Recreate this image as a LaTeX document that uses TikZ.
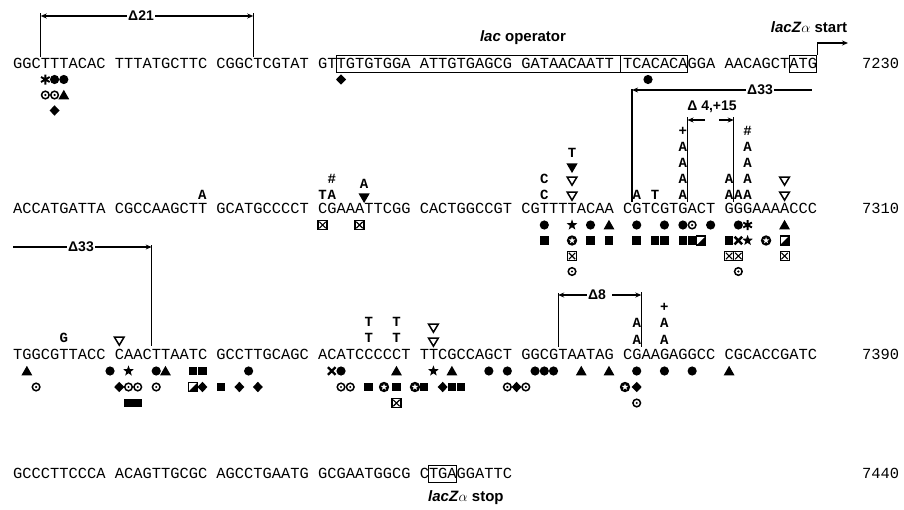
\documentclass[tikz,border=0pt]{standalone}
\usepackage{fontspec}
\setmainfont{Liberation Serif}
\setsansfont{Liberation Sans}
\setmonofont{Liberation Mono}
\usetikzlibrary{arrows.meta}

% column centre and column edge of the sequence lines
\newcommand\cx[1]{13+(#1+0.5)*9.24}
\newcommand\ex[1]{13+(#1)*9.24}

\tikzset{
  mkdot/.pic={\fill (0,0) circle (4.6);},
  mksq/.pic={\fill (-4.3,-4.3) rectangle (4.3,4.3);},
  mktri/.pic={\fill (0,-5.2) -- (5.4,4.3) -- (-5.4,4.3) -- cycle;},
  mkdtri/.pic={\fill (0,5) -- (5.6,-4.6) -- (-5.6,-4.6) -- cycle;},
  mkotri/.pic={\draw[line width=1.5pt] (0,4.2) -- (4.9,-4) -- (-4.9,-4) -- cycle;},
  mkdiam/.pic={\fill (0,-5.2) -- (5,0) -- (0,5.2) -- (-5,0) -- cycle;},
  mkodot/.pic={\draw[line width=1.5pt] (0,0) circle (3.8); \fill (0,0) circle (1.2);},
  mkxsq/.pic={\draw[line width=1.1pt] (-4.5,-4.5) rectangle (4.5,4.5);
    \draw[line width=1.1pt] (-3.2,-3.2) -- (3.2,3.2) (-3.2,3.2) -- (3.2,-3.2);},
  mkhsq/.pic={\draw[line width=1.1pt] (-4.5,-4.5) rectangle (4.5,4.5);
    \fill (4.5,-4.5) -- (4.5,4.5) -- (-4.5,4.5) -- cycle;},
  mkstar/.pic={\fill (-90:5.6) -- (-54:2.3) -- (-18:5.6) -- (18:2.3) -- (54:5.6) -- (90:2.3)
    -- (126:5.6) -- (162:2.3) -- (198:5.6) -- (234:2.3) -- cycle;},
  mkcstar/.pic={\fill (0,0) circle (5.2);
    \fill[white] (-90:3.4) -- (-54:1.4) -- (-18:3.4) -- (18:1.4) -- (54:3.4) -- (90:1.4)
    -- (126:3.4) -- (162:1.4) -- (198:3.4) -- (234:1.4) -- cycle;},
  mkast/.pic={\draw[line width=1.9pt] (-90:5) -- (90:5) (-30:5) -- (150:5) (30:5) -- (210:5);},
  mkcross/.pic={\draw[line width=2.4pt] (-3.8,-3.8) -- (3.8,3.8) (-3.8,3.8) -- (3.8,-3.8);}
}

\begin{document}
\begin{tikzpicture}[x=1pt,y=-1pt,
    seq/.style={font=\fontsize{15.4}{16}\selectfont\ttfamily,inner sep=0pt,anchor=base west},
    ins/.style={font=\fontsize{14}{14}\selectfont\ttfamily\bfseries,inner sep=0pt},
    lab/.style={font=\fontsize{14}{15}\selectfont\sffamily\bfseries,inner sep=1pt},
    seqbox/.style={draw,line width=0.9pt,inner sep=0pt,minimum height=17.5pt},
    dline/.style={line width=1.3pt},
    darr/.style={line width=1.3pt,-{Stealth[length=6pt,width=5pt]}}]
\useasboundingbox (0,0) rectangle (904,509);

% sequence lines
\node[seq] (row1) at (13,68.5) {GGCTTTACAC TTTATGCTTC CGGCTCGTAT GTTGTGTGGA ATTGTGAGCG GATAACAATT TCACACAGGA AACAGCTATG};
\node[seq] (row2) at (13,213.5) {ACCATGATTA CGCCAAGCTT GCATGCCCCT CGAAATTCGG CACTGGCCGT CGTTTTACAA CGTCGTGACT GGGAAAACCC};
\node[seq] (row3) at (13,359.5) {TGGCGTTACC CAACTTAATC GCCTTGCAGC ACATCCCCCT TTCGCCAGCT GGCGTAATAG CGAAGAGGCC CGCACCGATC};
\node[seq] (row4) at (13,478.5) {GCCCTTCCCA ACAGTTGCGC AGCCTGAATG GCGAATGGCG CTGAGGATTC};
\node[seq] (n7230) at (862,68.5) {7230};
\node[seq] (n7310) at (862,213.5) {7310};
\node[seq] (n7390) at (862,359.5) {7390};
\node[seq] (n7440) at (862,478.5) {7440};

% boxes and labels
\node[seqbox,minimum width=351.1pt] (opbox) at ({(\ex{35}+\ex{73})/2},64) {};
\coordinate (opdiv) at (620,64);
\draw[line width=0.9pt] (opdiv |- opbox.north) -- (opdiv |- opbox.south);
\node[lab,font=\fontsize{15}{16}\selectfont\sffamily\bfseries] (oplab) at (523,38) {\textit{lac} operator};
\node[seqbox,minimum width=27.7pt] (atgbox) at ({(\ex{84}+\ex{87})/2},64) {};
\node[lab,font=\fontsize{15}{16}\selectfont\sffamily\bfseries] (zstart) at (809,27) {\textit{lacZ}$\alpha$ start};
\coordinate (zstarttip) at (848,43);
\draw[darr] (atgbox.north east) |- (zstarttip);
\node[seqbox,minimum width=27.7pt] (stopbox) at ({(\ex{45}+\ex{48})/2},474) {};
\node[lab,font=\fontsize{15}{16}\selectfont\sffamily\bfseries,anchor=west] (zstop) at (427,498) {\textit{lacZ}$\alpha$ stop};

% deletions
\node[lab] (d21) at (141,16) {Δ21};
\coordinate (d21l) at ({\ex{3}},57);
\coordinate (d21lt) at ({\ex{3}},13);
\coordinate (d21r) at ({\ex{26}},57);
\coordinate (d21rt) at ({\ex{26}},13);
\draw[dline] (d21l) -- (d21lt);
\draw[dline] (d21r) -- (d21rt);
\draw[darr] (d21.west) -- (d21l |- d21);
\draw[darr] (d21.east) -- (d21r |- d21);

\node[lab] (d33a) at (760,90) {Δ33};
\coordinate (d33at) at ({\ex{67}},89);
\coordinate (d33ab) at ({\ex{67}},202);
\coordinate (d33aend) at (812,90);
\draw[dline] (d33at) -- (d33ab);
\draw[darr] (d33a.west) -- (d33at |- d33a);
\draw[dline] (d33a.east) -- (d33aend);

\node[lab] (d33b) at (81,247) {Δ33};
\coordinate (d33bstart) at (13,247);
\coordinate (d33bt) at ({\ex{15}},245);
\coordinate (d33bb) at ({\ex{15}},346);
\draw[dline] (d33bt) -- (d33bb);
\draw[dline] (d33bstart) -- (d33b.west);
\draw[darr] (d33b.east) -- (d33bt |- d33b);

\node[lab] (d4) at (712,107) {Δ 4,+15};
\coordinate (d4l) at ({\ex{73}},117);
\coordinate (d4lb) at ({\ex{73}},202);
\coordinate (d4r) at ({\ex{78}},117);
\coordinate (d4rb) at ({\ex{78}},202);
\coordinate (d4la) at (705,120);
\coordinate (d4ra) at (719,120);
\draw[dline] (d4l) -- (d4lb);
\draw[dline] (d4r) -- (d4rb);
\draw[darr] (d4la) -- (d4l |- d4la);
\draw[darr] (d4ra) -- (d4r |- d4ra);

\node[lab] (d8) at (597,295) {Δ8};
\coordinate (d8l) at ({\ex{59}},293);
\coordinate (d8lb) at ({\ex{59}},347);
\coordinate (d8r) at ({\ex{68}},292);
\coordinate (d8rb) at ({\ex{68}},347);
\draw[dline] (d8l) -- (d8lb);
\draw[dline] (d8r) -- (d8rb);
\draw[darr] (d8.west) -- (d8l |- d8);
\draw[darr] ([xshift=5pt]d8.east) -- (d8r |- d8);

% row 1 marks
\pic at ({\cx{3}},79.5) {mkast};
\pic at ({\cx{4}},79.5) {mkdot};
\pic at ({\cx{5}},79.5) {mkdot};
\pic at ({\cx{3}},95) {mkodot};
\pic at ({\cx{4}},95) {mkodot};
\pic at ({\cx{5}},95) {mktri};
\pic at ({\cx{4}},110.5) {mkdiam};
\pic at ({\cx{35}},79.5) {mkdiam};
\pic at (648,79.5) {mkdot};

% row 2 insertions and substitutions
\node[ins] (r2a20) at ({\cx{20}},195) {A};
\node[ins] (r2t33) at ({\cx{33}},195) {T};
\node[ins] (r2a34) at ({\cx{34}},195) {A};
\node[ins] (r2h34) at ({\cx{34}},179) {\#};
\pic at ({\ex{38}},198) {mkdtri};
\node[ins] (r2a38) at ({\ex{38}},184) {A};
\node[ins] (r2c57a) at ({\cx{57}},195) {C};
\node[ins] (r2c57b) at ({\cx{57}},179) {C};
\pic at ({\cx{60}},196) {mkotri};
\pic at ({\cx{60}},181) {mkotri};
\pic at ({\cx{60}},168) {mkdtri};
\node[ins] (r2t60) at ({\cx{60}},153) {T};
\node[ins] (r2a67) at ({\cx{67}},195) {A};
\node[ins] (r2t69) at ({\cx{69}},195) {T};
\node[ins] (r2a72a) at ({\cx{72}},195) {A};
\node[ins] (r2a72b) at ({\cx{72}},179) {A};
\node[ins] (r2a72c) at ({\cx{72}},163) {A};
\node[ins] (r2a72d) at ({\cx{72}},147) {A};
\node[ins] (r2p72) at ({\cx{72}},131) {+};
\node[ins] (r2a77a) at ({\cx{77}},195) {A};
\node[ins] (r2a77b) at ({\cx{77}},179) {A};
\node[ins] (r2a78) at ({\cx{78}},195) {A};
\node[ins] (r2a79a) at ({\cx{79}},195) {A};
\node[ins] (r2a79b) at ({\cx{79}},179) {A};
\node[ins] (r2a79c) at ({\cx{79}},163) {A};
\node[ins] (r2a79d) at ({\cx{79}},147) {A};
\node[ins] (r2h79) at ({\cx{79}},131) {\#};
\pic at ({\cx{83}},196) {mkotri};
\pic at ({\cx{83}},181) {mkotri};

% row 2 marks
\pic at ({\cx{33}},225) {mkxsq};
\pic at ({\cx{37}},225) {mkxsq};
\pic at ({\cx{57}},225) {mkdot};
\pic at ({\cx{60}},225) {mkstar};
\pic at ({\cx{62}},225) {mkdot};
\pic at ({\cx{64}},225) {mktri};
\pic at ({\cx{67}},225) {mkdot};
\pic at ({\cx{70}},225) {mkdot};
\pic at ({\cx{72}},225) {mkdot};
\pic at ({\cx{73}},225) {mkodot};
\pic at ({\cx{75}},225) {mkdot};
\pic at ({\cx{78}},225) {mkdot};
\pic at ({\cx{79}},225) {mkast};
\pic at ({\cx{83}},225) {mktri};
\pic at ({\cx{57}},240.5) {mksq};
\pic at ({\cx{60}},240.5) {mkcstar};
\pic at ({\cx{62}},240.5) {mksq};
\pic at ({\cx{64}},240.5) {mksq};
\pic at ({\cx{67}},240.5) {mksq};
\pic at ({\cx{69}},240.5) {mksq};
\pic at ({\cx{70}},240.5) {mksq};
\pic at ({\cx{72}},240.5) {mksq};
\pic at ({\cx{73}},240.5) {mksq};
\pic at ({\cx{74}},240.5) {mkhsq};
\pic at ({\cx{77}},240.5) {mksq};
\pic at ({\cx{78}},240.5) {mkcross};
\pic at ({\cx{79}},240.5) {mkstar};
\pic at ({\cx{81}},240.5) {mkcstar};
\pic at ({\cx{83}},240.5) {mkhsq};
\pic at ({\cx{60}},256) {mkxsq};
\pic at ({\cx{77}},256) {mkxsq};
\pic at ({\cx{78}},256) {mkxsq};
\pic at ({\cx{83}},256) {mkxsq};
\pic at ({\cx{60}},271.5) {mkodot};
\pic at ({\cx{78}},271.5) {mkodot};

% row 3 insertions and substitutions
\node[ins] (r3g5) at ({\cx{5}},338) {G};
\pic at ({\cx{11}},341) {mkotri};
\node[ins] (r3t38a) at ({\cx{38}},338) {T};
\node[ins] (r3t38b) at ({\cx{38}},322) {T};
\node[ins] (r3t41a) at ({\cx{41}},338) {T};
\node[ins] (r3t41b) at ({\cx{41}},322) {T};
\pic at ({\cx{45}},342) {mkotri};
\pic at ({\cx{45}},328) {mkotri};
\node[ins] (r3a67a) at ({\cx{67}},340) {A};
\node[ins] (r3a67b) at ({\cx{67}},323) {A};
\node[ins] (r3a70a) at ({\cx{70}},340) {A};
\node[ins] (r3a70b) at ({\cx{70}},323) {A};
\node[ins] (r3p70) at ({\cx{70}},307) {+};

% row 3 marks
\pic at ({\cx{1}},371) {mktri};
\pic at ({\cx{10}},371) {mkdot};
\pic at ({\cx{12}},371) {mkstar};
\pic at ({\cx{15}},371) {mkdot};
\pic at ({\cx{16}},371) {mktri};
\pic at ({\cx{19}},371) {mksq};
\pic at ({\cx{20}},371) {mksq};
\pic at ({\cx{25}},371) {mkdot};
\pic at ({\cx{34}},371) {mkcross};
\pic at ({\cx{35}},371) {mkdot};
\pic at ({\cx{41}},371) {mktri};
\pic at ({\cx{45}},371) {mkstar};
\pic at ({\cx{47}},371) {mktri};
\pic at ({\cx{51}},371) {mkdot};
\pic at ({\cx{53}},371) {mkdot};
\pic at ({\cx{56}},371) {mkdot};
\pic at ({\cx{57}},371) {mkdot};
\pic at ({\cx{58}},371) {mkdot};
\pic at ({\cx{61}},371) {mktri};
\pic at ({\cx{64}},371) {mktri};
\pic at ({\cx{67}},371) {mkdot};
\pic at ({\cx{70}},371) {mkdot};
\pic at ({\cx{73}},371) {mkdot};
\pic at ({\cx{77}},371) {mktri};
\pic at ({\cx{2}},387) {mkodot};
\pic at ({\cx{11}},387) {mkdiam};
\pic at ({\cx{12}},387) {mkodot};
\pic at ({\cx{13}},387) {mkodot};
\pic at ({\cx{15}},387) {mkodot};
\pic at ({\cx{19}},387) {mkhsq};
\pic at ({\cx{20}},387) {mkdiam};
\pic at ({\cx{22}},387) {mksq};
\pic at ({\cx{24}},387) {mkdiam};
\pic at ({\cx{26}},387) {mkdiam};
\pic at ({\cx{35}},387) {mkodot};
\pic at ({\cx{36}},387) {mkodot};
\pic at ({\cx{38}},387) {mksq};
\pic at (384,387) {mkcstar};
\pic at ({\cx{41}},387) {mksq};
\pic at ({\cx{43}},387) {mkcstar};
\pic at ({\cx{44}},387) {mksq};
\pic at ({\cx{46}},387) {mkdiam};
\pic at ({\cx{47}},387) {mksq};
\pic at ({\cx{48}},387) {mksq};
\pic at ({\cx{53}},387) {mkodot};
\pic at ({\cx{54}},387) {mkdiam};
\pic at ({\cx{55}},387) {mkodot};
\pic at (625,387) {mkcstar};
\pic at ({\cx{67}},387) {mkdiam};
\pic at ({\cx{12}},403) {mksq};
\pic at ({\cx{13}},403) {mksq};
\pic at ({\cx{41}},403) {mkxsq};
\pic at ({\cx{67}},403) {mkodot};
\end{tikzpicture}
\end{document}
